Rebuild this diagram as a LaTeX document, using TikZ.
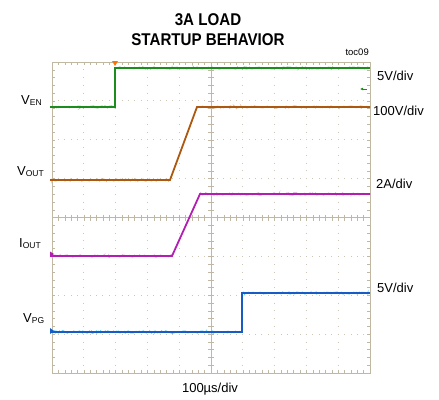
\documentclass[tikz,border=0pt]{standalone}
\usepackage{fontspec}
\setmainfont{Liberation Sans}
\usetikzlibrary{arrows.meta,decorations.pathmorphing}
\definecolor{framec}{RGB}{192,184,162}
\definecolor{ven}{RGB}{28,140,28}
\definecolor{vout}{RGB}{172,88,14}
\definecolor{iout}{RGB}{178,30,178}
\definecolor{vpg}{RGB}{22,92,196}
\newcommand{\sig}[2]{#1\raisebox{-1.5pt}{\fontsize{8.5}{8.5}\selectfont #2}}

\begin{document}
\begin{tikzpicture}[x=1pt,y=-1pt,
    lab/.style={font=\fontsize{13}{13}\selectfont, inner sep=0pt},
    trace/.style={line width=1.8pt, line join=miter},
    noise/.style={line width=0.7pt, decorate, decoration={random steps, segment length=1.2pt, amplitude=1.3pt}}]
    \useasboundingbox (0,0) rectangle (439,399);
    \def\xl{52} \def\xr{370} \def\yt{62} \def\yb{373}
    \def\dx{31.8} \def\dy{38.875}
    \def\xc{211} \def\yc{217.5}
    % 网格 (每个小格一个点)
    \foreach \i in {1,...,9} \draw[framec!80, line width=0.8pt, dash pattern=on 0.8pt off 6.975pt, dash phase=0.4pt] (\xl+\i*\dx,\yt) -- (\xl+\i*\dx,\yb);
    \foreach \j in {1,...,7} \draw[framec!80, line width=0.8pt, dash pattern=on 0.8pt off 5.56pt, dash phase=0.4pt] (\xl,\yt+\j*\dy) -- (\xr,\yt+\j*\dy);
    % 刻度: 边框与中心轴
    \foreach \i in {1,...,49} {
      \draw[framec] (\xl+\i*\dx/5,\yt) -- ++(0,3);
      \draw[framec] (\xl+\i*\dx/5,\yb) -- ++(0,-3);
      \draw[framec] (\xl+\i*\dx/5,\yc-3) -- ++(0,6);
    }
    \foreach \j in {1,...,39} {
      \draw[framec] (\xl,\yt+\j*\dy/5) -- ++(3,0);
      \draw[framec] (\xr,\yt+\j*\dy/5) -- ++(-3,0);
      \draw[framec] (\xc-3,\yt+\j*\dy/5) -- ++(6,0);
    }
    \draw[framec] (\xl,\yc) -- (\xr,\yc);
    \draw[framec] (\xc,\yt) -- (\xc,\yb);
    \draw[framec, line width=0.8pt] (\xl,\yt) rectangle (\xr,\yb); % 边框
    % 波形
    \draw[ven!45, noise] (50,107) -- (115,107) (116,68) -- (370,68);
    \draw[ven, trace] (50,107) -- (115,107) -- (115,68) -- (370,68);
    \draw[vout!45, noise] (50,180) -- (170,180) (197,107) -- (370,107);
    \draw[vout, trace] (50,180) -- (170,180) -- (197,107) -- (370,107);
    \draw[iout!45, noise] (50,256) -- (172,256) (200,194) -- (370,194);
    \draw[iout, trace] (50,256) -- (172,256) -- (200,194) -- (370,194);
    \draw[cyan!70, noise] (50,332) -- (242,332) (242,293) -- (370,293);
    \draw[vpg, trace] (50,332) -- (242,332) -- (242,293) -- (370,293);
    % 通道标记
    \fill[iout] (50,251.5) -- (54,254) -- (50,256.5) -- cycle;
    \fill[vpg] (50,328) -- (54,331) -- (50,334) -- cycle;
    % 触发标记与地线标记
    \fill[orange!90!red] (112,61) -- (118,61) -- (115,66) -- cycle;
    \draw[ven, line width=0.9pt, -{Latex[length=3pt,width=3pt]}] (367,89) -- (360,89);
    % 文字
    \node (t1) at (208,25) [anchor=base] {\fontsize{17}{17}\selectfont\bfseries\scalebox{0.89}[1]{3A LOAD}};
    \node (t2) at (208,45) [anchor=base] {\fontsize{17}{17}\selectfont\bfseries\scalebox{0.89}[1]{STARTUP BEHAVIOR}};
    \node (toc) at (369,55) [anchor=base east, inner sep=0pt] {\fontsize{9.5}{9.5}\selectfont toc09};
    \node[lab] (ven) at (21,104) [anchor=base west] {\sig{V}{EN}};
    \node[lab] (vout) at (17,175) [anchor=base west] {\sig{V}{OUT}};
    \node[lab] (iout) at (19,247) [anchor=base west] {\sig{I}{OUT}};
    \node[lab] (vpg) at (23,322) [anchor=base west] {\sig{V}{PG}};
    \node[lab] (s1) at (377,80) [anchor=base west] {5V/div};
    \node[lab] (s2) at (373,115) [anchor=base west] {100V/div};
    \node[lab] (s3) at (376,188) [anchor=base west] {2A/div};
    \node[lab] (s4) at (377,292) [anchor=base west] {5V/div};
    \node[lab] (tb) at (210,392) [anchor=base] {100µs/div};
\end{tikzpicture}
\end{document}
